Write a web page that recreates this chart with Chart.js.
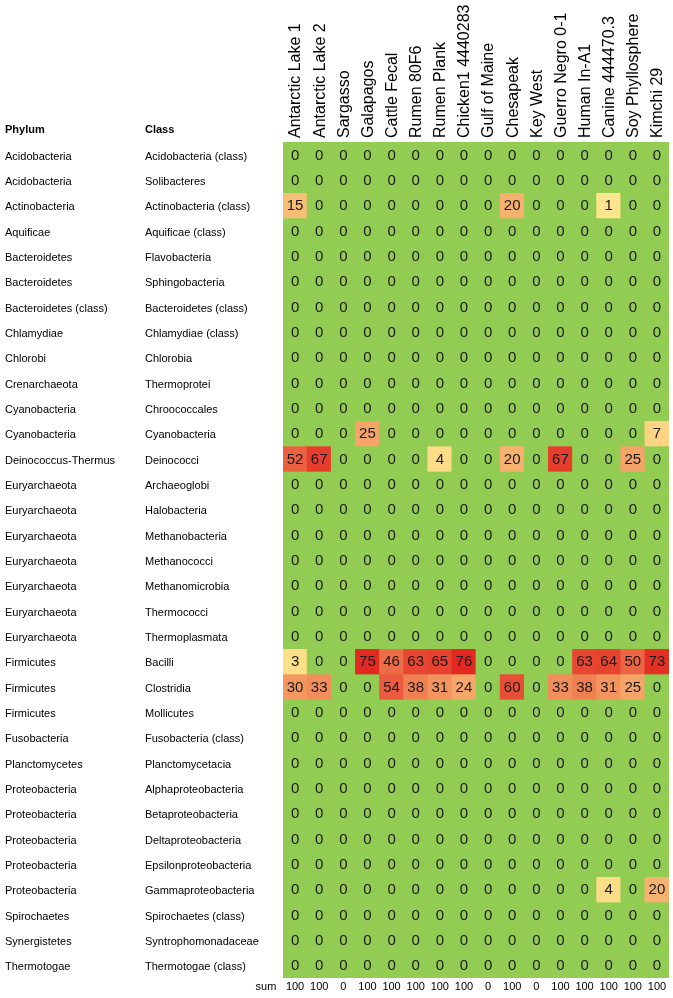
<!DOCTYPE html>
<html>
<head>
<meta charset="utf-8">
<title>Phylum / Class heatmap</title>
<script src="https://cdn.jsdelivr.net/npm/chart.js@4.4.1/dist/chart.umd.min.js"></script>
<style>
  html, body { margin: 0; padding: 0; background: #ffffff; }
  canvas { display: block; }
</style>
</head>
<body>
<canvas id="heatmap" width="673" height="998"></canvas>
<script>
const samples = ['Antarctic Lake 1', 'Antarctic Lake 2', 'Sargasso', 'Galapagos', 'Cattle Fecal',
    'Rumen 80F6', 'Rumen Plank', 'Chicken1 4440283', 'Gulf of Maine', 'Chesapeak', 'Key West',
    'Guerro Negro 0-1', 'Human In-A1', 'Canine 444470.3', 'Soy Phyllosphere', 'Kimchi 29'];

const phyla = ['Acidobacteria', 'Acidobacteria', 'Actinobacteria', 'Aquificae', 'Bacteroidetes',
    'Bacteroidetes', 'Bacteroidetes (class)', 'Chlamydiae', 'Chlorobi', 'Crenarchaeota',
    'Cyanobacteria', 'Cyanobacteria', 'Deinococcus-Thermus', 'Euryarchaeota', 'Euryarchaeota',
    'Euryarchaeota', 'Euryarchaeota', 'Euryarchaeota', 'Euryarchaeota', 'Euryarchaeota',
    'Firmicutes', 'Firmicutes', 'Firmicutes', 'Fusobacteria', 'Planctomycetes', 'Proteobacteria',
    'Proteobacteria', 'Proteobacteria', 'Proteobacteria', 'Proteobacteria', 'Spirochaetes',
    'Synergistetes', 'Thermotogae'];

const classes = ['Acidobacteria (class)', 'Solibacteres', 'Actinobacteria (class)', 'Aquificae (class)',
    'Flavobacteria', 'Sphingobacteria', 'Bacteroidetes (class)', 'Chlamydiae (class)', 'Chlorobia',
    'Thermoprotei', 'Chroococcales', 'Cyanobacteria', 'Deinococci', 'Archaeoglobi', 'Halobacteria',
    'Methanobacteria', 'Methanococci', 'Methanomicrobia', 'Thermococci', 'Thermoplasmata', 'Bacilli',
    'Clostridia', 'Mollicutes', 'Fusobacteria (class)', 'Planctomycetacia', 'Alphaproteobacteria',
    'Betaproteobacteria', 'Deltaproteobacteria', 'Epsilonproteobacteria', 'Gammaproteobacteria',
    'Spirochaetes (class)', 'Syntrophomonadaceae', 'Thermotogae (class)'];

// one row per class, one value per sample (percent)
const values = [
    [0, 0, 0, 0, 0, 0, 0, 0, 0, 0, 0, 0, 0, 0, 0, 0],
    [0, 0, 0, 0, 0, 0, 0, 0, 0, 0, 0, 0, 0, 0, 0, 0],
    [15, 0, 0, 0, 0, 0, 0, 0, 0, 20, 0, 0, 0, 1, 0, 0],
    [0, 0, 0, 0, 0, 0, 0, 0, 0, 0, 0, 0, 0, 0, 0, 0],
    [0, 0, 0, 0, 0, 0, 0, 0, 0, 0, 0, 0, 0, 0, 0, 0],
    [0, 0, 0, 0, 0, 0, 0, 0, 0, 0, 0, 0, 0, 0, 0, 0],
    [0, 0, 0, 0, 0, 0, 0, 0, 0, 0, 0, 0, 0, 0, 0, 0],
    [0, 0, 0, 0, 0, 0, 0, 0, 0, 0, 0, 0, 0, 0, 0, 0],
    [0, 0, 0, 0, 0, 0, 0, 0, 0, 0, 0, 0, 0, 0, 0, 0],
    [0, 0, 0, 0, 0, 0, 0, 0, 0, 0, 0, 0, 0, 0, 0, 0],
    [0, 0, 0, 0, 0, 0, 0, 0, 0, 0, 0, 0, 0, 0, 0, 0],
    [0, 0, 0, 25, 0, 0, 0, 0, 0, 0, 0, 0, 0, 0, 0, 7],
    [52, 67, 0, 0, 0, 0, 4, 0, 0, 20, 0, 67, 0, 0, 25, 0],
    [0, 0, 0, 0, 0, 0, 0, 0, 0, 0, 0, 0, 0, 0, 0, 0],
    [0, 0, 0, 0, 0, 0, 0, 0, 0, 0, 0, 0, 0, 0, 0, 0],
    [0, 0, 0, 0, 0, 0, 0, 0, 0, 0, 0, 0, 0, 0, 0, 0],
    [0, 0, 0, 0, 0, 0, 0, 0, 0, 0, 0, 0, 0, 0, 0, 0],
    [0, 0, 0, 0, 0, 0, 0, 0, 0, 0, 0, 0, 0, 0, 0, 0],
    [0, 0, 0, 0, 0, 0, 0, 0, 0, 0, 0, 0, 0, 0, 0, 0],
    [0, 0, 0, 0, 0, 0, 0, 0, 0, 0, 0, 0, 0, 0, 0, 0],
    [3, 0, 0, 75, 46, 63, 65, 76, 0, 0, 0, 0, 63, 64, 50, 73],
    [30, 33, 0, 0, 54, 38, 31, 24, 0, 60, 0, 33, 38, 31, 25, 0],
    [0, 0, 0, 0, 0, 0, 0, 0, 0, 0, 0, 0, 0, 0, 0, 0],
    [0, 0, 0, 0, 0, 0, 0, 0, 0, 0, 0, 0, 0, 0, 0, 0],
    [0, 0, 0, 0, 0, 0, 0, 0, 0, 0, 0, 0, 0, 0, 0, 0],
    [0, 0, 0, 0, 0, 0, 0, 0, 0, 0, 0, 0, 0, 0, 0, 0],
    [0, 0, 0, 0, 0, 0, 0, 0, 0, 0, 0, 0, 0, 0, 0, 0],
    [0, 0, 0, 0, 0, 0, 0, 0, 0, 0, 0, 0, 0, 0, 0, 0],
    [0, 0, 0, 0, 0, 0, 0, 0, 0, 0, 0, 0, 0, 0, 0, 0],
    [0, 0, 0, 0, 0, 0, 0, 0, 0, 0, 0, 0, 0, 4, 0, 20],
    [0, 0, 0, 0, 0, 0, 0, 0, 0, 0, 0, 0, 0, 0, 0, 0],
    [0, 0, 0, 0, 0, 0, 0, 0, 0, 0, 0, 0, 0, 0, 0, 0],
    [0, 0, 0, 0, 0, 0, 0, 0, 0, 0, 0, 0, 0, 0, 0, 0]
];

const sums = [100, 100, 0, 100, 100, 100, 100, 100, 0, 100, 0, 100, 100, 100, 100, 100];

const GREEN = '#92cc52';
const FONT = '"Liberation Sans", Arial, sans-serif';

// yellow -> orange -> red scale, zero stays green
function cellColor(v) {
    if (v === 0) return GREEN;
    const stops = [
        [1, [254, 228, 140]],
        [38, [240, 128, 82]],
        [76, [227, 40, 33]]
    ];
    let a = stops[0], b = stops[1];
    if (v > stops[1][0]) { a = stops[1]; b = stops[2]; }
    let t = (v - a[0]) / (b[0] - a[0]);
    t = Math.max(0, Math.min(1, t));
    const c = a[1].map((x, i) => Math.round(x + (b[1][i] - x) * t));
    return 'rgb(' + c.join(',') + ')';
}

const datasets = classes.map((cls, r) => ({
    label: phyla[r] + ' / ' + cls,
    data: samples.map(() => 1),
    backgroundColor: values[r].map(cellColor),
    borderWidth: 0,
    barPercentage: 1,
    categoryPercentage: 1
}));

const labelsPlugin = {
    id: 'heatLabels',
    beforeDatasetsDraw(chart) {
        const { ctx, chartArea: a } = chart;
        ctx.save();
        ctx.fillStyle = GREEN;
        ctx.fillRect(a.left, a.top, a.right - a.left, a.bottom - a.top);
        ctx.restore();
    },
    afterDatasetsDraw(chart) {
        const ctx = chart.ctx;
        const x = chart.scales.x;
        const y = chart.scales.y;
        ctx.save();

        // cell values
        ctx.font = '15px ' + FONT;
        ctx.fillStyle = '#1a1a1a';
        ctx.textAlign = 'center';
        ctx.textBaseline = 'middle';
        values.forEach((row, r) => {
            const cy = y.getPixelForValue(r + 0.5);
            row.forEach((v, c) => {
                ctx.fillText(String(v), x.getPixelForValue(c), cy + 1);
            });
        });

        // row labels
        ctx.font = '11px ' + FONT;
        ctx.fillStyle = '#000';
        ctx.textAlign = 'left';
        classes.forEach((cls, r) => {
            const cy = y.getPixelForValue(r + 0.5) + 2;
            ctx.fillText(phyla[r], 5, cy);
            ctx.fillText(cls, 145, cy);
        });
        ctx.font = 'bold 11px ' + FONT;
        ctx.fillText('Phylum', 5, 130);
        ctx.fillText('Class', 145, 130);

        // column headers, rotated
        ctx.font = '16px ' + FONT;
        ctx.textBaseline = 'middle';
        samples.forEach((s, c) => {
            ctx.save();
            ctx.translate(x.getPixelForValue(c) + 1, 138);
            ctx.rotate(-Math.PI / 2);
            ctx.fillText(s, 0, 0);
            ctx.restore();
        });

        // sum row
        ctx.font = '11px ' + FONT;
        ctx.textAlign = 'center';
        ctx.fillText('sum', 266, 987);
        sums.forEach((s, c) => {
            ctx.fillText(String(s), x.getPixelForValue(c), 987);
        });
        ctx.restore();
    }
};

new Chart(document.getElementById('heatmap').getContext('2d'), {
    type: 'bar',
    data: { labels: samples, datasets: datasets },
    options: {
        responsive: false,
        animation: false,
        layout: { padding: { left: 283, right: 4, top: 142, bottom: 20 } },
        plugins: {
            legend: { display: false },
            tooltip: { enabled: false }
        },
        scales: {
            x: { stacked: true, display: false, offset: true },
            y: { stacked: true, display: false, reverse: true, min: 0, max: classes.length }
        }
    },
    plugins: [labelsPlugin]
});
</script>
</body>
</html>
